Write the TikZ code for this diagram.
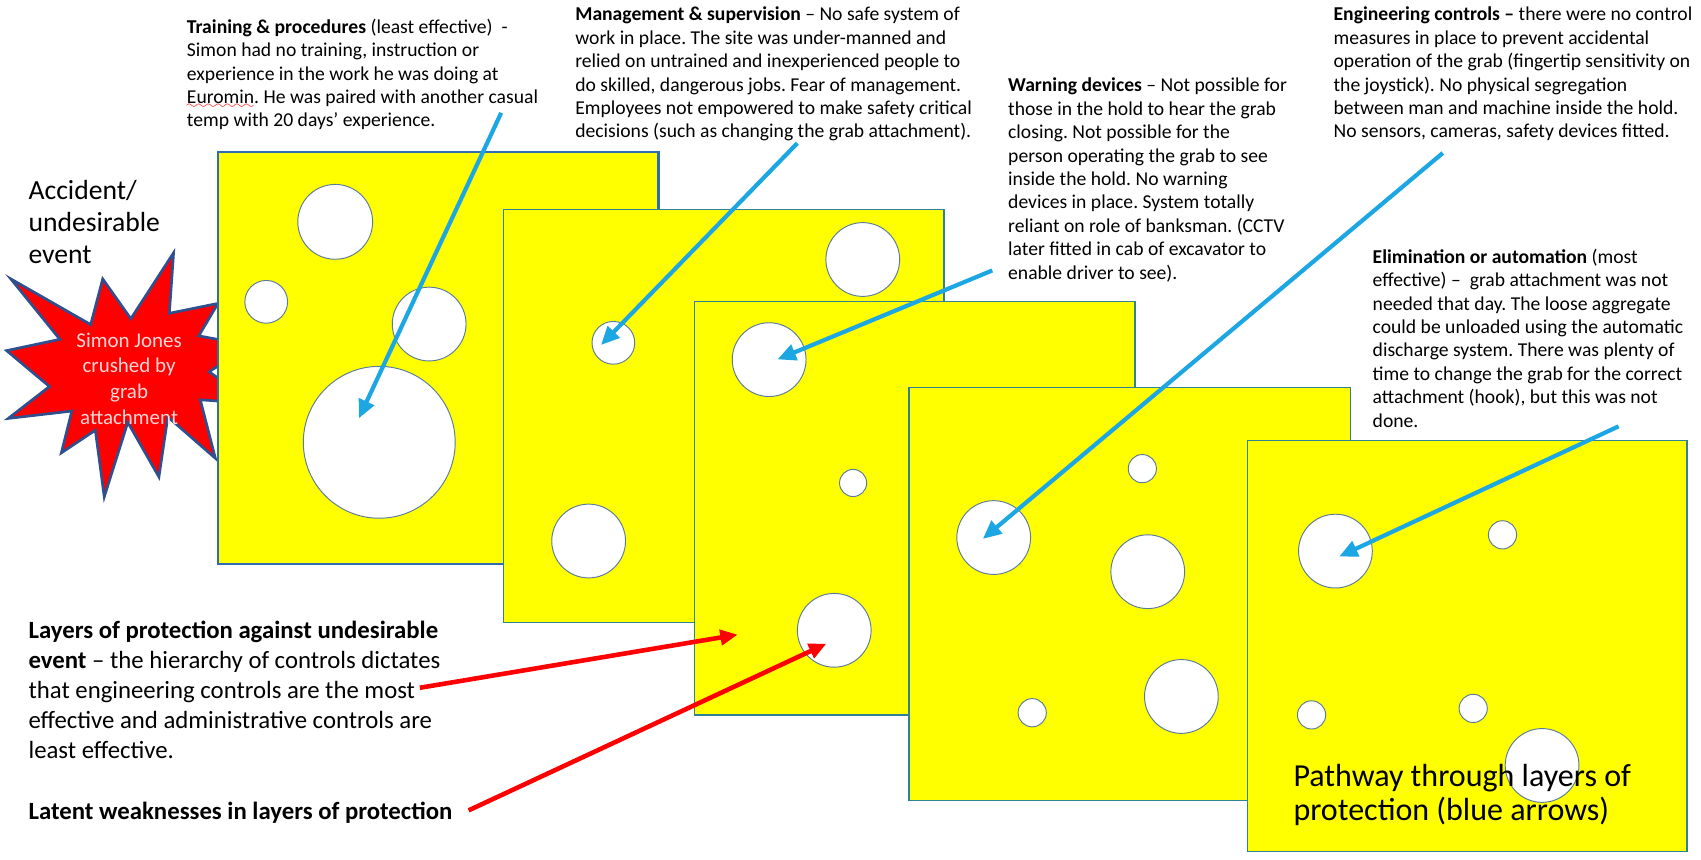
\documentclass[tikz,border=0pt]{standalone}
\usepackage{fontspec}
\setmainfont{Carlito}
\usetikzlibrary{arrows.meta}
\definecolor{chYellow}{HTML}{FFFF00}
\definecolor{chEdge}{HTML}{2F8296}
\definecolor{chFirst}{HTML}{2E6DB4}
\definecolor{chHole}{HTML}{5B7C99}
\definecolor{chBlue}{HTML}{1CA6E3}
\definecolor{chRed}{HTML}{FF0000}
\definecolor{chStar}{HTML}{2F4F8F}
\definecolor{chPink}{HTML}{FFD6D6}
\font\wavyfont=lasy6
\newcommand\spellwave[1]{\setbox0\hbox{#1}\rlap{\textcolor{red}{\lower2.4pt\hbox to\wd0{\leaders\hbox{\wavyfont\char58}\hfill}}}#1}
\frenchspacing

\begin{document}
\begin{tikzpicture}[x=0.02cm, y=-0.02cm,
  cheese/.style={fill=chYellow, draw=chEdge, line width=0.8pt},
  hole/.style={fill=white, draw=chHole, line width=0.5pt},
  note/.style={anchor=north west, inner sep=0pt, align=left, font=\fontsize{10.3}{12.3}\selectfont},
  big/.style={anchor=north west, inner sep=0pt, align=left, font=\fontsize{13}{15.8}\selectfont},
  blu/.style={-{Triangle[length=3.4mm, width=3mm]}, chBlue, line width=2.2pt},
  rd/.style={-{Triangle[length=3.2mm, width=2.8mm]}, chRed, line width=2.4pt}]
  \useasboundingbox (0,0) rectangle (1568,792);
  % accident star
  \draw[fill=chRed, draw=chStar, line width=1.4pt, line join=miter]
    (120.6,293.8) -- (94.7,257.1) -- (83.6,299.2) -- (10,257.1) -- (55.2,312.8)
    -- (6.1,323.2) -- (45.6,356.3) -- (7.6,385.7) -- (66.2,378.9) -- (56.6,417.4)
    -- (87.9,396.6) -- (96.1,458) -- (117.8,389.3) -- (146.5,439.6) -- (154.7,384.3)
    -- (198.5,422.4) -- (184.6,368.5) -- (234,372.1) -- (192.8,342.7) -- (229.7,318.2)
    -- (183.2,309.6) -- (200.9,279.7) -- (156.1,288.8) -- (160,233.1) -- cycle;
  \node[align=center, text=chPink, font=\fontsize{11}{13.5}\selectfont] (event) at (119,349)
    {Simon Jones\\crushed by\\grab\\attachment};
  \node[anchor=north west, inner sep=0pt, align=left, font=\fontsize{14.5}{16.9}\selectfont]
    (accident) at (26,165.5) {Accident/\\undesirable\\event};
  % layers of protection
  \draw[cheese, draw=chFirst, line width=1.2pt] (201,140) rectangle (607,520);
  \foreach \x/\y/\r in {309/204.5/34.5, 245.4/278.2/19.7, 395.6/298.7/34, 349.6/407.7/70}
    \draw[hole] (\x,\y) circle[radius=\r];
  \draw[cheese] (464,193) rectangle (870,574);
  \foreach \x/\y/\r in {795.3/239.2/34, 565.4/316/19.7, 542.6/498.7/34}
    \draw[hole] (\x,\y) circle[radius=\r];
  \draw[cheese] (640,278) rectangle (1046,659);
  \foreach \x/\y/\r in {709/331.5/34, 786.4/445.2/12.5, 769/581/34}
    \draw[hole] (\x,\y) circle[radius=\r];
  \draw[cheese] (838,357) rectangle (1245,738);
  \foreach \x/\y/\r in {1053/432/13, 916/495.5/34, 1058/527/34, 1089/642/34, 951.5/657/13}
    \draw[hole] (\x,\y) circle[radius=\r];
  \draw[cheese] (1150,406) rectangle (1555,785);
  \foreach \x/\y/\r in {1231/508/34, 1385/493/13, 1209/659/13, 1358/653/13, 1421.5/705.6/34}
    \draw[hole] (\x,\y) circle[radius=\r];
  % notes
  \node[note] (train) at (172,17) {\textbf{Training \& procedures} (least effective)~ -\\
    Simon had no training, instruction or\\
    experience in the work he was doing at\\
    \spellwave{Euromin}. He was paired with another casual\\
    temp with 20 days’ experience.};
  \node[note] (manage) at (530,6) {\textbf{Management \& supervision} – No safe system of\\
    work in place. The site was under-manned and\\
    relied on untrained and inexperienced people to\\
    do skilled, dangerous jobs. Fear of management.\\
    Employees not empowered to make safety critical\\
    decisions (such as changing the grab attachment).};
  \node[note] (warn) at (929,71.5) {\textbf{Warning devices} – Not possible for\\
    those in the hold to hear the grab\\
    closing. Not possible for the\\
    person operating the grab to see\\
    inside the hold. No warning\\
    devices in place. System totally\\
    reliant on role of banksman. (CCTV\\
    later fitted in cab of excavator to\\
    enable driver to see).};
  \node[note] (eng) at (1229,6) {\textbf{Engineering controls –} there were no control\\
    measures in place to prevent accidental\\
    operation of the grab (fingertip sensitivity on\\
    the joystick). No physical segregation\\
    between man and machine inside the hold.\\
    No sensors, cameras, safety devices fitted.};
  \node[note] (elim) at (1265,229) {\textbf{Elimination or automation} (most\\
    effective) –~ grab attachment was not\\
    needed that day. The loose aggregate\\
    could be unloaded using the automatic\\
    discharge system. There was plenty of\\
    time to change the grab for the correct\\
    attachment (hook), but this was not\\
    done.};
  \node[big] (layers) at (26,572) {\textbf{Layers of protection against undesirable}\\
    \textbf{event} – the hierarchy of controls dictates\\
    that engineering controls are the most\\
    effective and administrative controls are\\
    least effective.};
  \node[big] (latent) at (26,739) {\textbf{Latent weaknesses in layers of protection}};
  \node[anchor=north west, inner sep=0pt, align=left, font=\fontsize{16.8}{18}\selectfont]
    (pathway) at (1192,704) {Pathway through layers of\\protection (blue arrows)};
  % arrow ends
  \coordinate (r1) at (387,634);   \coordinate (w1) at (680,585);
  \coordinate (r2) at (432,747);   \coordinate (w2) at (761.7,593.4);
  \coordinate (b1) at (462,104);   \coordinate (h1) at (330.8,385.6);
  \coordinate (b2) at (735,132);   \coordinate (h2) at (554,318);
  \coordinate (b3) at (914.7,249.3); \coordinate (h3) at (716.7,331.3);
  \coordinate (b4) at (1330,141);  \coordinate (h4) at (906,496.7);
  \coordinate (b5) at (1492,393);  \coordinate (h5) at (1234.5,513);
  \draw[rd] (r1) -- (w1);
  \draw[rd] (r2) -- (w2);
  \draw[blu] (b1) -- (h1);
  \draw[blu] (b2) -- (h2);
  \draw[blu] (b3) -- (h3);
  \draw[blu] (b4) -- (h4);
  \draw[blu] (b5) -- (h5);
\end{tikzpicture}
\end{document}
